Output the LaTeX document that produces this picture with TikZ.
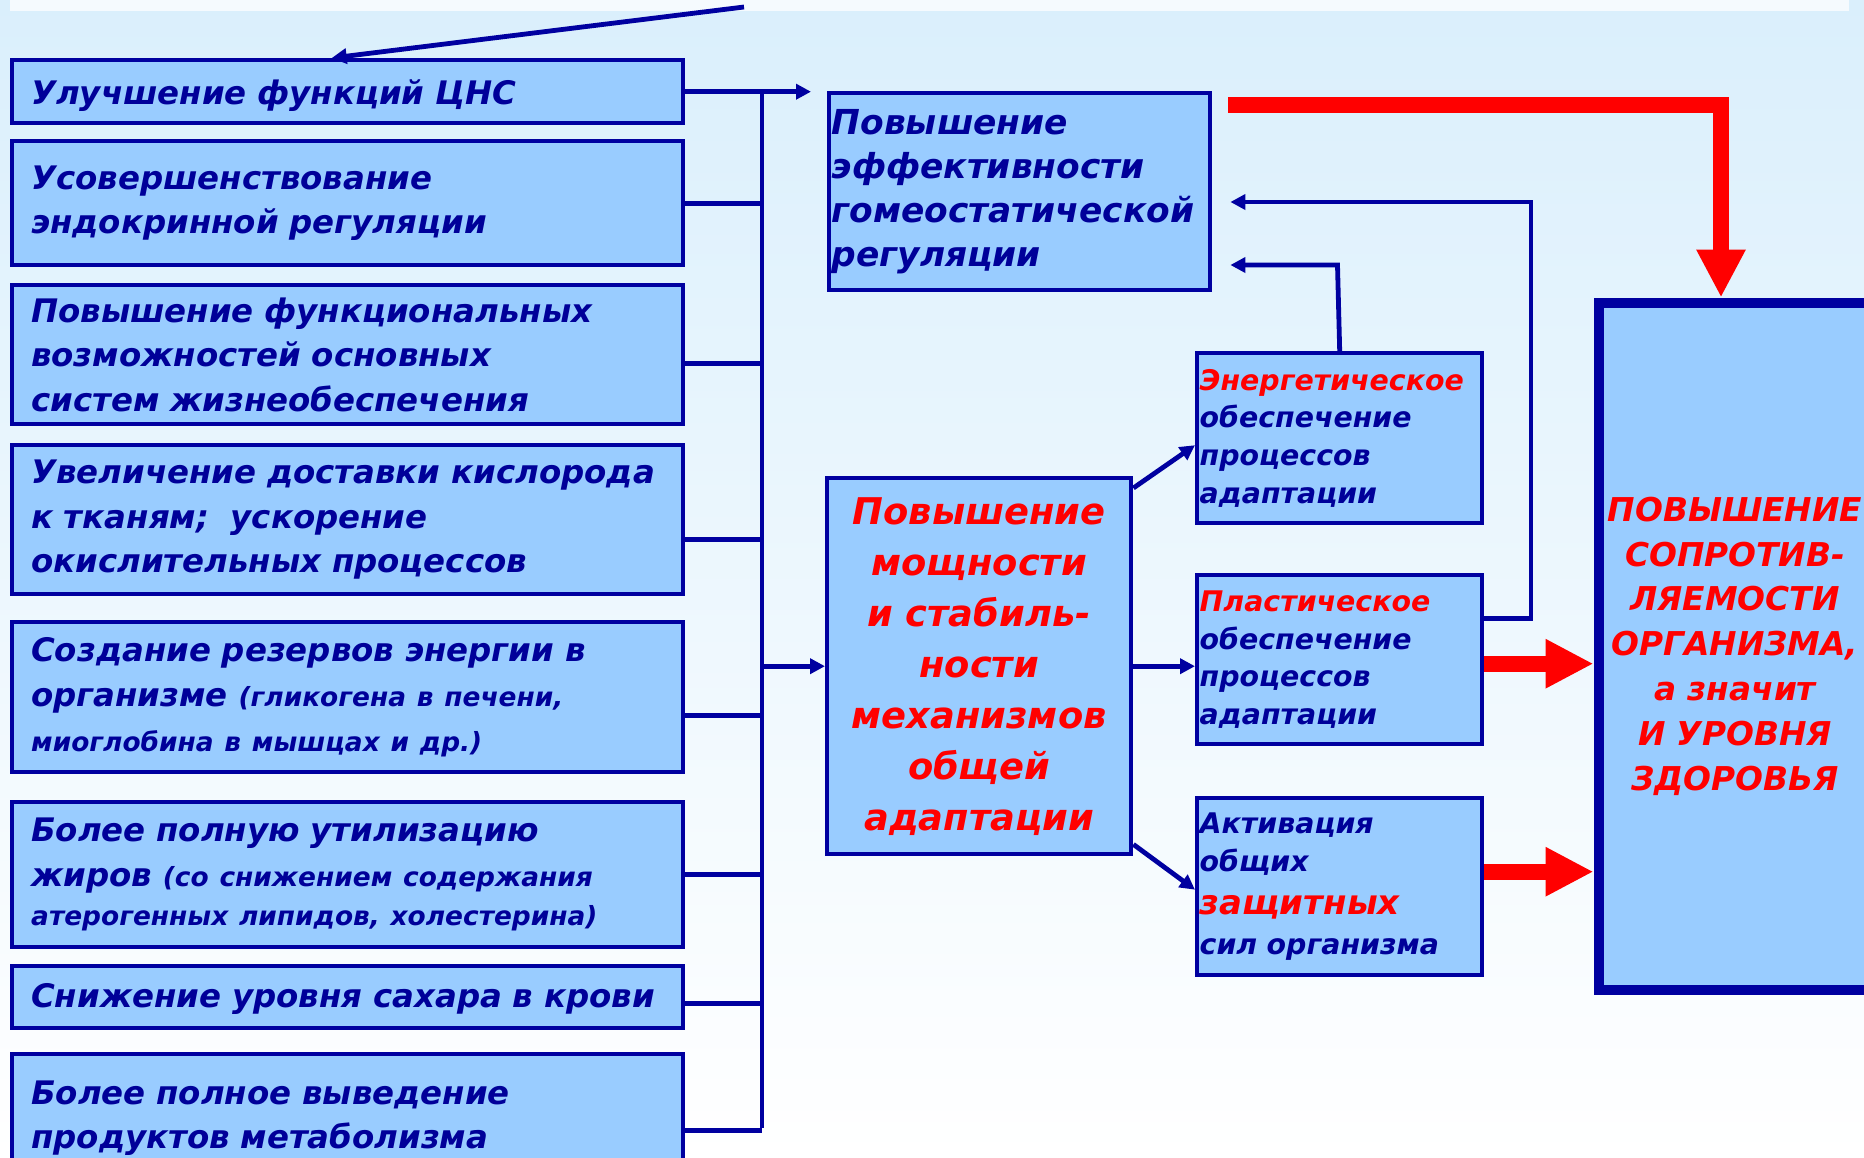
\documentclass[tikz,border=0pt]{standalone}
\usepackage{fontspec}
\setmainfont{DejaVu Sans}[BoldItalicFont={DejaVu Sans Bold Oblique}]
\usetikzlibrary{arrows.meta,calc}
\definecolor{navy}{RGB}{0,0,153}
\definecolor{bord}{RGB}{0,0,160}
\definecolor{boxfill}{RGB}{153,204,255}
\definecolor{bgtop}{RGB}{218,239,252}
\definecolor{band}{RGB}{245,250,254}
\definecolor{redc}{RGB}{255,0,0}
\newcommand{\fntL}{\fontsize{16.2}{22.3}\selectfont\bfseries\itshape}
\newcommand{\fntP}{\fontsize{13.2}{22.3}\selectfont}
\newcommand{\fntT}{\fontsize{17.2}{22}\selectfont\bfseries\itshape}
\newcommand{\fntC}{\fontsize{18.4}{25.5}\selectfont\bfseries\itshape}
\newcommand{\fntS}{\fontsize{14.2}{18.9}\selectfont\bfseries\itshape}
\newcommand{\fntZ}{\fontsize{17}{18.9}\selectfont}
\newcommand{\fntR}{\fontsize{16.4}{22.4}\selectfont\bfseries\itshape}
\begin{document}
\begin{tikzpicture}[x=0.5pt,y=0.5pt,
  box/.style={draw=bord, line width=2.2pt, fill=boxfill, anchor=north west, inner ysep=0pt},
  lbox/.style={box, minimum width=335.5pt, text width=316.5pt, inner xsep=9.5pt, align=left, text=navy, font=\fntL},
  sbox/.style={box, minimum width=142.5pt, text width=140pt, inner xsep=1.25pt, align=left, text=navy, font=\fntS},
  conn/.style={draw=bord, line width=2.4pt},
  arr/.style={conn, -{Triangle[length=7.5pt,width=7.5pt]}},
  redarr/.style={draw=redc, line width=8pt, -{Triangle[length=24pt,width=23pt]}}]
\clip (0,0) rectangle (1864,-1157);
\shade[top color=bgtop, bottom color=white] (0,0) rectangle (1864,-1157);
\fill[band] (10,0) rectangle (1849,-11);

% left column
\node[lbox, minimum height=31.5pt] (b1) at (10,-58) {\raisebox{-1.8pt}[\height][\depth]{Улучшение функций ЦНС}};
\node[lbox, minimum height=62pt] (b2) at (10,-139) {Усовершенствование\\эндокринной регуляции};
\node[lbox, minimum height=69.5pt] (b3) at (10,-283) {Повышение функциональных\\возможностей основных\\систем жизнеобеспечения};
\node[lbox, minimum height=74.5pt] (b4) at (10,-443) {Увеличение доставки кислорода\\к тканям;\ \ ускорение\\окислительных процессов};
\node[lbox, minimum height=75pt] (b5) at (10,-620) {Создание резервов энергии в\\организме {\fntP(гликогена в печени,}\\{\fntP миоглобина в мышцах и др.)}};
\node[lbox, minimum height=72.5pt] (b6) at (10,-800) {Более полную утилизацию\\жиров {\fntP(со снижением содержания}\\[-2.5pt]{\fntP атерогенных липидов, холестерина)}};
\node[lbox, minimum height=31pt] (b7) at (10,-964) {\raisebox{-1pt}[\height][\depth]{Снижение уровня сахара в крови}};
\node[lbox, minimum height=64pt] (b8) at (10,-1052) {Более полное выведение\\продуктов метаболизма};

% middle
\node[box, minimum width=190.5pt, minimum height=98.5pt, text width=188pt, inner xsep=1.25pt, align=left, text=navy, font=\fntT] (eff) at (827,-91) {Повышение\\эффективности\\гомеостатической\\регуляции};
\node[box, minimum width=152pt, minimum height=188pt, text width=150pt, inner xsep=1pt, align=center, text=redc, font=\fntC] (core) at (825,-476) {Повышение\\мощности\\и стабиль-\\ности\\механизмов\\общей\\адаптации};

% small right boxes
\node[sbox, minimum height=85pt] (en) at (1195,-351) {\textcolor{redc}{Энергетическое}\\обеспечение\\процессов\\адаптации};
\node[sbox, minimum height=84.5pt] (pl) at (1195,-573) {\textcolor{redc}{Пластическое}\\обеспечение\\процессов\\адаптации};
\node[sbox, minimum height=88.5pt] (act) at (1195,-796) {Активация\\общих\\[2.5pt]{\fntZ\textcolor{redc}{защитных}}\\[1pt]сил организма};

% big box
\node[draw=bord, line width=5pt, fill=boxfill, anchor=north west, minimum width=136.5pt, minimum height=343.5pt, inner sep=0pt, align=center, text=redc, font=\fntR] (big) at (1593.5,-297.5) {ПОВЫШЕНИЕ\\СОПРОТИВ-\\ЛЯЕМОСТИ\\ОРГАНИЗМА,\\а значит\\И УРОВНЯ\\ЗДОРОВЬЯ};

% top arrow
\coordinate (t0) at (744,-7);
\draw[arr] (t0) -- ([xshift=-8pt]b1.north);

% bus
\coordinate (bt) at (762,-89);
\coordinate (bb) at (762,-1128);
\draw[conn] (bt) -- (bb);
\coordinate (e1) at ([xshift=-8pt]eff.north west);
\draw[arr] (b1.east) -- (e1 |- b1.east);
\path ([yshift=0pt]b2.east) coordinate (c2);
\path ([yshift=-4.25pt]b3.east) coordinate (c3);
\path ([yshift=-9.75pt]b4.east) coordinate (c4);
\path ([yshift=-9pt]b5.east) coordinate (c5);
\path ([yshift=0pt]b6.east) coordinate (c6);
\path ([yshift=-3pt]b7.east) coordinate (c7);
\path ([yshift=-6pt]b8.east) coordinate (c8);
\foreach \c in {c2,c3,c4,c5,c6,c7,c8} \draw[conn] (\c) -- (\c -| bt);
\draw[arr] (core.west -| bt) -- (core.west);

% core to small boxes
\draw[arr] ([yshift=-6pt]core.north east) -- ([yshift=-3.5pt]en.west);
\draw[arr] (core.east) -- (core.east -| pl.west);
\draw[arr] ([yshift=6pt]core.south east) -- ([yshift=-1.5pt]act.west);

% feedback to eff
\coordinate (eA) at ([xshift=9pt]eff.east);
\coordinate (p0) at ([yshift=20.75pt]pl.east);
\coordinate (cA) at (1531,-202);
\draw[arr] (p0) -| (cA) -- (cA -| eA);
\coordinate (cB) at (1337.5,-265);
\draw[arr] (en.north) -- (cB) -- (cB -| eA);

% red arrows
\coordinate (rA) at ([xshift=8pt]eff.north east);
\coordinate (rB) at (1721,-105);
\draw[redarr] (rA |- rB) -- (rB) -- (rB |- big.north);
\coordinate (r1) at ([yshift=-2pt]pl.east);
\draw[redarr] (r1) -- (r1 -| big.west);
\coordinate (r2) at ([yshift=7.5pt]act.east);
\draw[redarr] (r2) -- (r2 -| big.west);
\end{tikzpicture}
\end{document}
